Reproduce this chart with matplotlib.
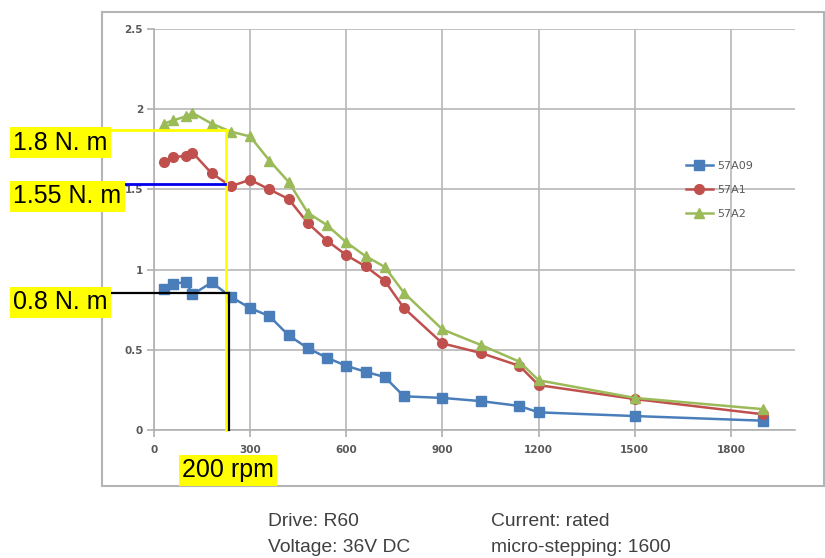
import matplotlib
matplotlib.use("Agg")
import matplotlib.pyplot as plt
from matplotlib.patches import Rectangle
from matplotlib.lines import Line2D

speed = [30, 60, 100, 120, 180, 240, 300, 360, 420, 480, 540, 600, 660, 720,
         780, 900, 1020, 1140, 1200, 1500, 1900]
torque_57A09 = [0.88, 0.91, 0.925, 0.845, 0.92, 0.83, 0.76, 0.71, 0.59, 0.51,
                0.45, 0.40, 0.363, 0.33, 0.21, 0.20, 0.18, 0.15, 0.11, 0.087, 0.058]
torque_57A1 = [1.67, 1.70, 1.71, 1.73, 1.60, 1.52, 1.56, 1.50, 1.44, 1.29,
               1.18, 1.09, 1.02, 0.93, 0.76, 0.54, 0.48, 0.40, 0.28, 0.193, 0.098]
torque_57A2 = [1.91, 1.93, 1.956, 1.977, 1.91, 1.86, 1.83, 1.68, 1.547, 1.354,
               1.277, 1.17, 1.084, 1.017, 0.855, 0.627, 0.53, 0.426, 0.31, 0.20, 0.13]
series_names = ["57A09", "57A1", "57A2"]
x_ticks = [0, 300, 600, 900, 1200, 1500, 1800]
y_ticks = [0, 0.5, 1, 1.5, 2, 2.5]
y_tick_labels = ["0", "0.5", "1", "1.5", "2", "2.5"]

W, H = 825, 558
fig = plt.figure(figsize=(W / 100, H / 100), dpi=100)

def fx(px):
    return px / W

def fy(py):
    return 1 - py / H

ax = fig.add_axes([fx(154), fy(430), fx(795) - fx(154), fy(29) - fy(430)])

# outer chart frame
fig.patches.append(Rectangle((fx(102), fy(486)), fx(824) - fx(102), fy(12) - fy(486),
                             transform=fig.transFigure, fill=False,
                             edgecolor="#b4b4b4", linewidth=1.5, zorder=0))

ax.plot(speed, torque_57A09, color="#4a7ebb", marker="s", markersize=6.5,
        linewidth=1.8, label=series_names[0], zorder=3)
ax.plot(speed, torque_57A1, color="#c0504d", marker="o", markersize=7,
        linewidth=1.8, label=series_names[1], zorder=3)
ax.plot(speed, torque_57A2, color="#9bbb59", marker="^", markersize=7,
        linewidth=1.8, label=series_names[2], zorder=4)

ax.set_xlim(0, 2000)
ax.set_ylim(0, 2.5)
ax.set_xticks(x_ticks)
ax.set_yticks(y_ticks)
ax.set_yticklabels(y_tick_labels)
ax.grid(True, color="#b8b8b8", linewidth=1.2)
ax.set_axisbelow(True)
for s in ["top", "right"]:
    ax.spines[s].set_visible(False)
for s in ["left", "bottom"]:
    ax.spines[s].set_color("#b0b0b0")
    ax.spines[s].set_linewidth(1.2)
ax.tick_params(axis="both", colors="#b0b0b0", length=5, width=1.2,
               labelcolor="#595959", labelsize=7.5, pad=3)
for lab in ax.get_xticklabels() + ax.get_yticklabels():
    lab.set_fontweight("bold")
ax.tick_params(axis="x", pad=6)

leg = ax.legend(loc="upper left", bbox_to_anchor=(fx(676), fy(151)),
                bbox_transform=fig.transFigure, frameon=False, fontsize=8,
                handlelength=2.4, labelspacing=1.25, handletextpad=0.4)
for t in leg.get_texts():
    t.set_color("#595959")

# annotation lines (pixel positions of the overlay)
def hline(x0, x1, y, color, lw):
    fig.add_artist(Line2D([fx(x0), fx(x1)], [fy(y), fy(y)], transform=fig.transFigure,
                          color=color, linewidth=lw, zorder=6))

def vline(x, y0, y1, color, lw):
    fig.add_artist(Line2D([fx(x), fx(x)], [fy(y0), fy(y1)], transform=fig.transFigure,
                          color=color, linewidth=lw, zorder=6))

hline(107, 227, 130, "#ffff00", 2.0)
vline(226, 130, 430, "#ffff00", 2.0)
hline(122, 225, 184, "#0000ee", 2.0)
hline(108, 228, 293, "#000000", 1.6)
vline(228.5, 293, 430, "#000000", 1.6)

lab_kw = dict(fontsize=18, family="Liberation Sans", color="black",
              transform=fig.transFigure, zorder=7,
              bbox=dict(facecolor="#ffff00", edgecolor="none", pad=2.5))
fig.text(fx(13), fy(143), "1.8 N. m", va="center", ha="left", **lab_kw)
fig.text(fx(13), fy(196), "1.55 N. m", va="center", ha="left", **lab_kw)
fig.text(fx(13), fy(302), "0.8 N. m", va="center", ha="left", **lab_kw)
fig.text(fx(182), fy(470), "200 rpm", va="center", ha="left", **lab_kw)

cap_kw = dict(fontsize=13.9, family="Liberation Sans", color="#404040",
              transform=fig.transFigure, va="center", ha="left")
fig.text(fx(268), fy(522), "Drive: R60", **cap_kw)
fig.text(fx(268), fy(548), "Voltage: 36V DC", **cap_kw)
fig.text(fx(491), fy(522), "Current: rated", **cap_kw)
fig.text(fx(491), fy(548), "micro-stepping: 1600", **cap_kw)

fig.savefig("out.png", dpi=100)
